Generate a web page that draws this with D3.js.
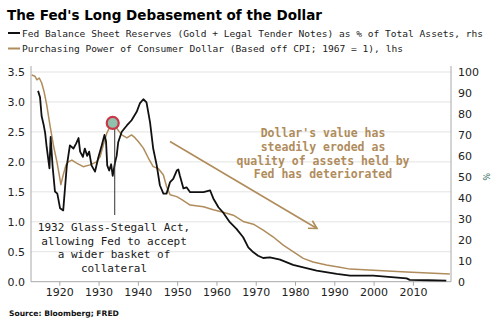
<!DOCTYPE html>
<html>
<head>
<meta charset="utf-8">
<script src="https://cdn.jsdelivr.net/npm/d3@7/dist/d3.min.js"></script>
<style>
  html, body { margin: 0; padding: 0; background: #fff; }
  svg { display: block; }
</style>
</head>
<body>
<svg id="chart" width="500" height="329"></svg>
<script>
// Fed reserves (gold + legal tender notes) as % of total assets — right axis
const reserveYears = [1914.6, 1915.1, 1915.5, 1916.0, 1916.4, 1916.8, 1917.5, 1917.8, 1918.3, 1918.9, 1919.5, 1920.2, 1921.0, 1921.9, 1922.7, 1923.6, 1924.3, 1924.9, 1925.3, 1926.0, 1926.5, 1927.1, 1927.6, 1928.2, 1929.1, 1929.9, 1930.8, 1931.5, 1931.9, 1932.2, 1932.7, 1933.2, 1933.6, 1934.2, 1934.6, 1935.0, 1935.9, 1937.2, 1938.4, 1939.7, 1940.5, 1941.4, 1942.2, 1943.1, 1943.9, 1944.8, 1945.6, 1946.5, 1947.3, 1948.2, 1949.0, 1949.9, 1950.3, 1950.7, 1951.6, 1952.4, 1953.3, 1955.0, 1956.7, 1958.4, 1959.2, 1960.5, 1961.7, 1963.4, 1965.1, 1966.8, 1968.1, 1969.4, 1970.6, 1971.9, 1973.6, 1976.2, 1979.5, 1982.1, 1985.5, 1990.6, 1994.0, 1999.9, 2008.4, 2009.2, 2014.0, 2018.5];
const reserveValues = [91, 88, 79, 75, 71, 64, 54, 69, 55, 43, 42, 35, 34, 55, 65, 63.5, 66, 68.5, 62, 59.5, 63.5, 60, 62, 55.5, 52.5, 59, 65, 70, 67, 55.5, 53, 56, 50.5, 57, 60, 66.5, 71.5, 74.5, 77, 81, 85, 87, 85.5, 76, 63.5, 55.5, 46, 42, 42, 47.5, 49, 53, 53.5, 50.5, 44.5, 45, 42.7, 42.7, 42.7, 43.5, 39.7, 35.5, 33, 28.4, 25.2, 21.2, 16.4, 14, 12.4, 11.3, 11.6, 10.5, 8, 6.8, 5.3, 3.7, 2.9, 2.9, 1.6, 0.9, 0.7, 0.5];

// Purchasing power of the consumer dollar (CPI based, 1967 = 1) — left axis
const powerYears = [1913.0, 1913.8, 1914.3, 1914.9, 1915.5, 1916.1, 1916.8, 1917.6, 1918.5, 1919.4, 1920.0, 1920.4, 1921.0, 1921.7, 1922.3, 1923.2, 1924.4, 1926.1, 1927.8, 1929.5, 1930.4, 1931.2, 1932.1, 1932.9, 1933.8, 1934.6, 1935.9, 1937.2, 1938.4, 1939.3, 1940.1, 1941.4, 1942.7, 1943.9, 1945.2, 1946.5, 1947.3, 1948.2, 1949.9, 1951.2, 1953.3, 1956.7, 1959.2, 1961.7, 1964.3, 1967.0, 1969.4, 1971.9, 1974.4, 1977.0, 1979.5, 1982.1, 1984.6, 1988.0, 1991.4, 1994.0, 2000.0, 2008.4, 2019.4];
const powerValues = [3.45, 3.43, 3.37, 3.40, 3.32, 3.18, 2.95, 2.62, 2.28, 2.00, 1.78, 1.62, 1.78, 1.95, 2.00, 2.03, 1.98, 1.92, 1.95, 2.00, 2.09, 2.28, 2.48, 2.59, 2.65, 2.56, 2.45, 2.40, 2.45, 2.40, 2.34, 2.23, 2.06, 1.92, 1.89, 1.78, 1.59, 1.45, 1.42, 1.37, 1.28, 1.25, 1.20, 1.16, 1.11, 1.00, 0.96, 0.86, 0.75, 0.61, 0.50, 0.39, 0.33, 0.28, 0.24, 0.21, 0.19, 0.16, 0.13];

const leftTicks = [0, 0.5, 1, 1.5, 2, 2.5, 3, 3.5];
const rightTicks = [0, 10, 20, 30, 40, 50, 60, 70, 80, 90, 100];
const yearTicks = [1920, 1930, 1940, 1950, 1960, 1970, 1980, 1990, 2000, 2010];

const titleText = "The Fed's Long Debasement of the Dollar";
const legendItems = [
  "Fed Balance Sheet Reserves (Gold + Legal Tender Notes) as % of Total Assets, rhs",
  "Purchasing Power of Consumer Dollar (Based off CPI; 1967 = 1), lhs"
];
const noteGlass = ["1932 Glass-Stegall Act,", "allowing Fed to accept", "a wider basket of", "collateral"];
const noteDollar = ["Dollar's value has", "steadily eroded as", "quality of assets held by", "Fed has deteriorated"];
const sourceText = "Source: Bloomberg; FRED";

const black = "#111111";
const tan = "#b08c5c";
const mono = "'DejaVu Sans Mono', 'Liberation Mono', monospace";
const sans = "'DejaVu Sans', Verdana, sans-serif";

const svg = d3.select("#chart");
const plot = { left: 31, right: 451, top: 72, bottom: 281.7 };

const x = d3.scaleLinear().domain([1912.8, 2019.7]).range([plot.left, plot.right]);
const yL = d3.scaleLinear().domain([0, 3.5]).range([plot.bottom, plot.top]);
const yR = d3.scaleLinear().domain([0, 100]).range([plot.bottom, plot.top]);

// Title and legend
svg.append("text").attr("x", 7).attr("y", 20)
  .attr("font-family", sans).attr("font-weight", "bold").attr("font-size", 14.2)
  .attr("textLength", 315).attr("lengthAdjust", "spacingAndGlyphs")
  .attr("fill", "#000").text(titleText);

const legendColors = [black, tan];
legendItems.forEach((t, i) => {
  const ly = 33 + i * 15.5;
  svg.append("line").attr("x1", 8).attr("x2", 20).attr("y1", ly).attr("y2", ly)
    .attr("stroke", legendColors[i]).attr("stroke-width", 2);
  svg.append("text").attr("x", 22).attr("y", ly + 3.5)
    .attr("font-family", mono).attr("font-size", 9.4).attr("fill", "#222")
    .attr("textLength", i === 0 ? 461 : 381).attr("lengthAdjust", "spacingAndGlyphs")
    .text(t);
});

// Gridlines
svg.append("g").selectAll("line").data(leftTicks.filter(d => d > 0)).join("line")
  .attr("x1", plot.left).attr("x2", plot.right)
  .attr("y1", d => yL(d)).attr("y2", d => yL(d))
  .attr("stroke", "#e3e3e3").attr("stroke-width", 1);

// Axes
const axisColor = "#a8a8a8";
const gx = svg.append("g").attr("transform", `translate(0,${plot.bottom})`)
  .call(d3.axisBottom(x).tickValues(yearTicks).tickFormat(d3.format("d")).tickSize(4).tickPadding(3));
const gl = svg.append("g").attr("transform", `translate(${plot.left},0)`)
  .call(d3.axisLeft(yL).tickValues(leftTicks).tickFormat(d3.format(".1f")).tickSize(0).tickPadding(6));
const gr = svg.append("g").attr("transform", `translate(${plot.right},0)`)
  .call(d3.axisRight(yR).tickValues(rightTicks).tickSize(0).tickPadding(7));
[gx, gl, gr].forEach(g => {
  g.select(".domain").attr("stroke", axisColor);
  g.selectAll(".tick line").attr("stroke", axisColor);
  g.selectAll("text").attr("font-family", sans).attr("font-size", 11).attr("fill", "#222");
});
gx.select(".domain").attr("d", `M${plot.left},0H${plot.right}`);
gl.select(".domain").attr("d", `M0,${plot.top - 6}V${plot.bottom}`);
gr.select(".domain").attr("d", `M0,${plot.top - 6}V${plot.bottom}`);
gl.selectAll(".tick text").attr("dy", "0.35em");
gr.selectAll(".tick text").attr("dy", "0.35em");

// Rotated percent unit for the right axis
svg.append("text")
  .attr("transform", `translate(486,${yR(50)}) rotate(90)`)
  .attr("text-anchor", "middle").attr("dy", "0.35em")
  .attr("font-family", sans).attr("font-size", 8).attr("fill", "#2d6a55")
  .text("%");

// Lines
const powerLine = d3.line().x((d, i) => x(powerYears[i])).y(d => yL(d));
const reserveLine = d3.line().x((d, i) => x(reserveYears[i])).y(d => yR(d));

svg.append("path").datum(powerValues).attr("d", powerLine)
  .attr("fill", "none").attr("stroke", tan).attr("stroke-width", 1.5).attr("stroke-linejoin", "round");
svg.append("path").datum(reserveValues).attr("d", reserveLine)
  .attr("fill", "none").attr("stroke", black).attr("stroke-width", 1.8).attr("stroke-linejoin", "round");

// Glass-Steagall annotation: marker at the 1933 peak, leader line, and label
const markYear = 1933.6, markVal = 2.65;
svg.append("line")
  .attr("x1", x(markYear) + 2).attr("x2", x(markYear) + 2)
  .attr("y1", yL(markVal) + 6).attr("y2", 215)
  .attr("stroke", "#333").attr("stroke-width", 1);
svg.append("circle").attr("cx", x(markYear)).attr("cy", yL(markVal)).attr("r", 6)
  .attr("fill", "#8fc1ad").attr("stroke", "#c83848").attr("stroke-width", 2.2);

const glass = svg.append("text").attr("font-family", mono).attr("font-size", 11)
  .attr("fill", "#1a1a1a").attr("text-anchor", "middle");
noteGlass.forEach((t, i) => {
  glass.append("tspan").attr("x", 114).attr("y", 231 + i * 13.7).text(t);
});

// Trend arrow and commentary
const arrow = { x1: 170, y1: 141.5, x2: 317, y2: 228.5 };
svg.append("line").attr("x1", arrow.x1).attr("y1", arrow.y1).attr("x2", arrow.x2).attr("y2", arrow.y2)
  .attr("stroke", tan).attr("stroke-width", 1.6);
const ang = Math.atan2(arrow.y2 - arrow.y1, arrow.x2 - arrow.x1);
const headLen = 9, spread = 0.5;
svg.append("path")
  .attr("d", `M${arrow.x2 - headLen * Math.cos(ang - spread)},${arrow.y2 - headLen * Math.sin(ang - spread)}` +
             `L${arrow.x2},${arrow.y2}` +
             `L${arrow.x2 - headLen * Math.cos(ang + spread)},${arrow.y2 - headLen * Math.sin(ang + spread)}`)
  .attr("fill", "none").attr("stroke", tan).attr("stroke-width", 1.6);

const dollar = svg.append("text").attr("font-family", mono).attr("font-size", 11.5)
  .attr("font-weight", "bold").attr("fill", tan).attr("text-anchor", "middle");
noteDollar.forEach((t, i) => {
  dollar.append("tspan").attr("x", 323).attr("y", 137 + i * 13.8).text(t);
});

// Source
svg.append("text").attr("x", 9).attr("y", 316)
  .attr("font-family", sans).attr("font-weight", "bold").attr("font-size", 7.6)
  .attr("fill", "#111").text(sourceText);
</script>
</body>
</html>
